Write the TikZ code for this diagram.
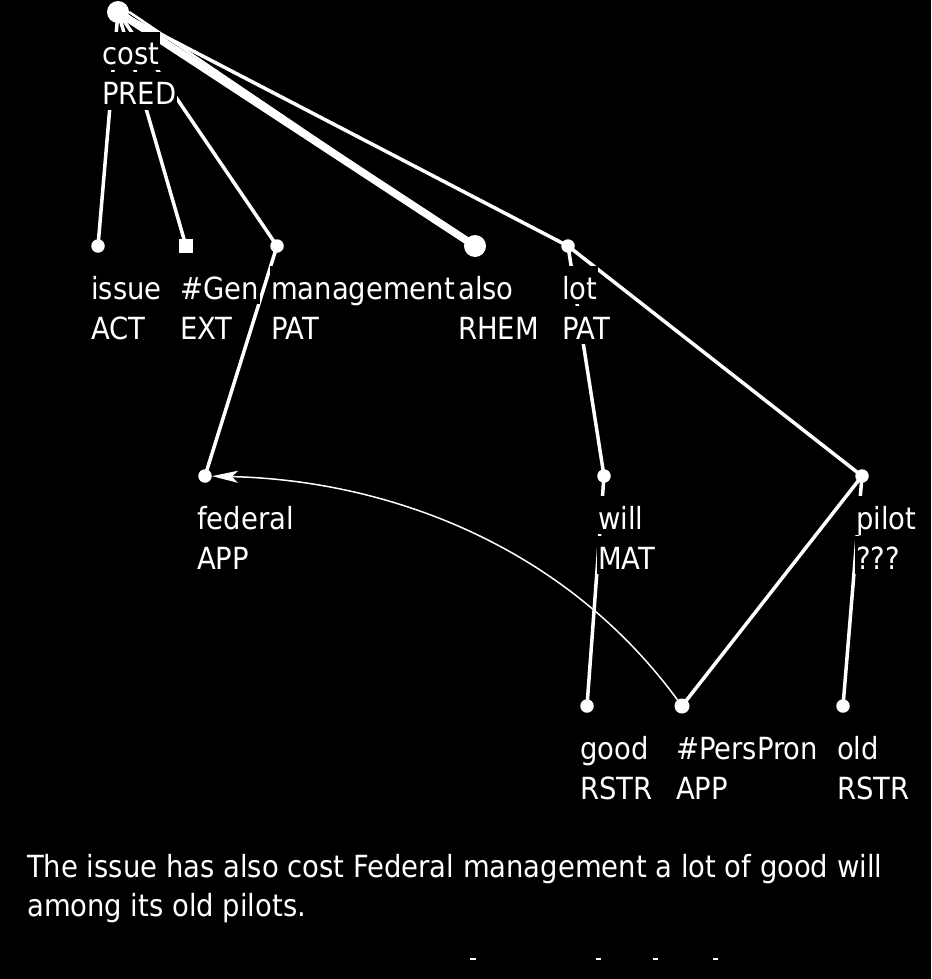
\documentclass[tikz,border=0pt]{standalone}
\usepackage{fontspec}
\setmainfont{DejaVu Sans Condensed}
\usetikzlibrary{arrows.meta}
\pgfdeclarelayer{bglayer}
\pgfdeclarelayer{edgelayer}
\pgfsetlayers{bglayer,edgelayer,main}
\newcommand\lstrut{\rule[-5pt]{0pt}{38pt}}
\begin{document}
\begin{tikzpicture}[x=1pt,y=-1pt,
  dot/.style={circle, fill=white, draw=none, inner sep=0pt, minimum size=13.5pt},
  bigdot/.style={dot, minimum size=22pt},
  middot/.style={dot, minimum size=15pt},
  sqnode/.style={rectangle, fill=white, draw=none, inner sep=0pt, minimum size=14pt},
  lbl/.style={anchor=base west, fill=black, text=white, inner sep=0pt, inner xsep=1pt,
              font=\fontsize{30.5}{39}\selectfont},
  sent/.style={anchor=base west, text=white, inner sep=0pt,
              font=\fontsize{30.5}{39}\selectfont},
  edge/.style={draw=white, line width=3.5pt},
  thickedge/.style={draw=white, line width=7.5pt},
  thinedge/.style={draw=white, line width=2.5pt},
  coref/.style={draw=white, line width=1.5pt, -{Stealth[length=26pt, width=12pt, inset=6pt]}},
  tickmark/.style={draw=white, line width=2pt}
]
\useasboundingbox (0,0) rectangle (931,979);
\begin{pgfonlayer}{bglayer}
  \fill[black] (0,0) rectangle (931,979);
\end{pgfonlayer}

% nodes
\node[bigdot] (cost) at (118,12) {};
\node[dot] (issue) at (98,246) {};
\node[sqnode] (gen) at (186,246) {};
\node[dot] (mgmt) at (277,246) {};
\node[bigdot] (also) at (475,246) {};
\node[dot] (lot) at (568,246) {};
\node[dot] (fed) at (205,476) {};
\node[dot] (will) at (604,476) {};
\node[dot] (pilot) at (862,476) {};
\node[dot] (good) at (587,706) {};
\node[middot] (pp) at (682,706) {};
\node[dot] (old) at (843,706) {};

% edges
\begin{pgfonlayer}{edgelayer}
  \draw[edge] (cost.center) -- (issue.center);
  \draw[edge] (cost.center) -- (gen.center);
  \draw[edge] (cost.center) -- (mgmt.center);
  \draw[thickedge] (cost.center) -- (also.center);
  \draw[thinedge] (cost.east) -- (also.center);
  \draw[edge] (cost.center) -- (lot.center);
  \draw[edge] (lot.center) -- (pilot.center);
  \draw[edge] (lot.center) -- (will.center);
  \draw[edge] (mgmt.center) -- (fed.center);
  \draw[edge] (will.center) -- (good.center);
  \draw[edge] (pilot.center) -- (pp.center);
  \draw[edge] (pilot.center) -- (old.center);
  \draw[coref] (pp) .. controls (560,540) and (380,480) .. (fed);
\end{pgfonlayer}

% labels
\node[lbl] (costA) at (101,65) {\lstrut cost};
\node[lbl] (costB) at (101,105) {\lstrut PRED};
\node[lbl] (issueA) at (90,299) {\lstrut issue};
\node[lbl] (issueB) at (90,339) {\lstrut ACT};
\node[lbl] (genA) at (179,299) {\lstrut \#Gen};
\node[lbl] (genB) at (179,339) {\lstrut EXT};
\node[lbl] (mgmtA) at (270,299) {\lstrut management};
\node[lbl] (mgmtB) at (270,339) {\lstrut PAT};
\node[lbl] (alsoA) at (457,299) {\lstrut also};
\node[lbl] (alsoB) at (457,339) {\lstrut RHEM};
\node[lbl] (lotA) at (561,299) {\lstrut lot};
\node[lbl] (lotB) at (561,339) {\lstrut PAT};
\node[lbl] (fedA) at (196,529) {\lstrut federal};
\node[lbl] (fedB) at (196,569) {\lstrut APP};
\node[lbl] (willA) at (597,529) {\lstrut will};
\node[lbl] (willB) at (597,569) {\lstrut MAT};
\node[lbl] (pilotA) at (855,529) {\lstrut pilot};
\node[lbl] (pilotB) at (855,569) {\lstrut ???};
\node[lbl] (goodA) at (579,759) {\lstrut good};
\node[lbl] (goodB) at (579,799) {\lstrut RSTR};
\node[lbl] (ppA) at (675,759) {\lstrut \#PersPron};
\node[lbl] (ppB) at (675,799) {\lstrut APP};
\node[lbl] (oldA) at (836,759) {\lstrut old};
\node[lbl] (oldB) at (836,799) {\lstrut RSTR};

% sentence
\node[sent] (s1) at (27,877) {The issue has also cost Federal management a lot of good will};
\node[sent] (s2) at (27,916) {among its old pilots.};

% small marks at the bottom
\draw[tickmark] (470,959) -- (476,959);
\draw[tickmark] (596,959) -- (601,959);
\draw[tickmark] (653,959) -- (658,959);
\draw[tickmark] (713,959) -- (718,959);
\end{tikzpicture}
\end{document}
